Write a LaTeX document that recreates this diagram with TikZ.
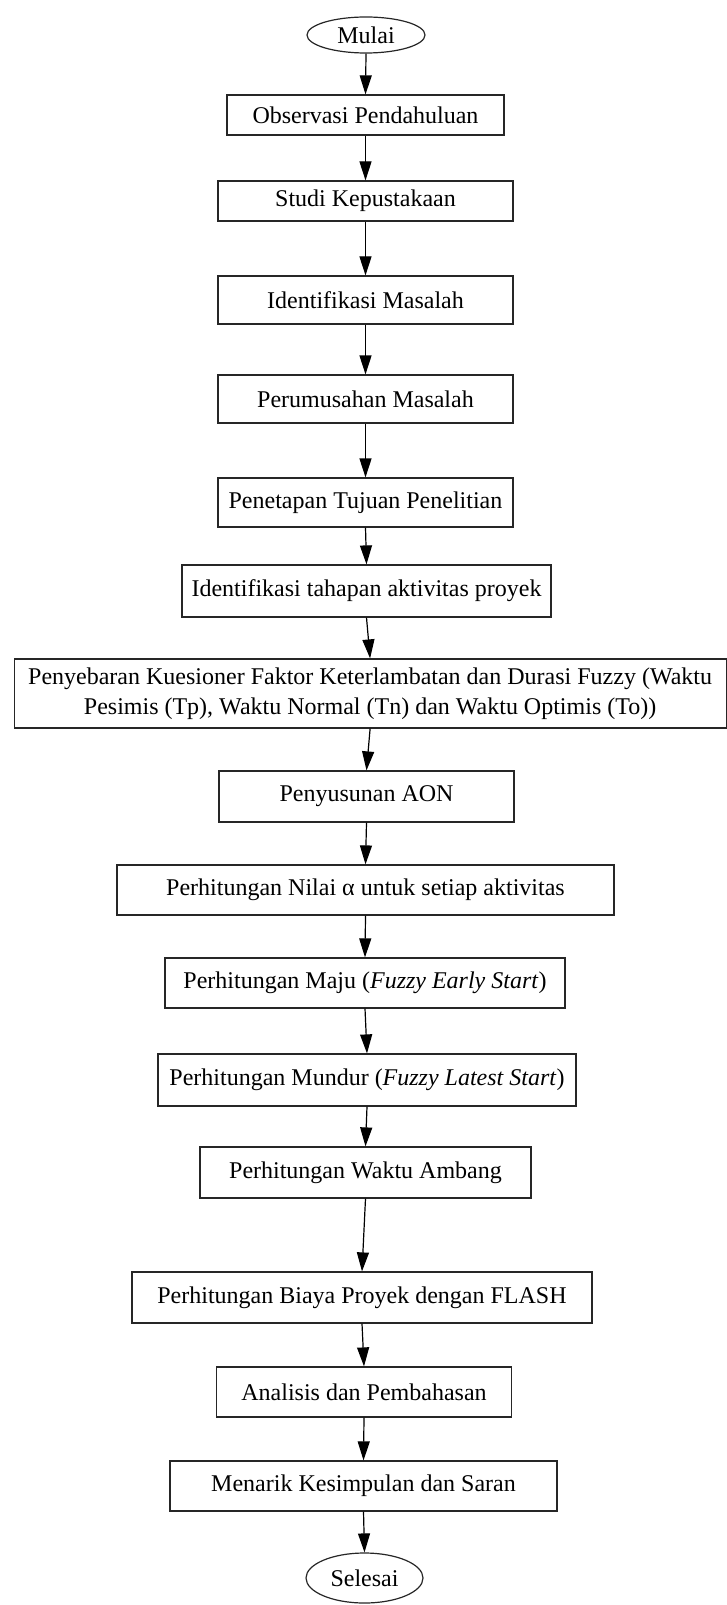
\documentclass[tikz,border=0pt]{standalone}
\usepackage{fontspec}
\setmainfont{Liberation Serif}
\usetikzlibrary{shapes.geometric,arrows.meta}
\begin{document}
\begin{tikzpicture}[x=1pt,y=-1pt,
  box/.style={draw=black!85, line width=1.2pt, rectangle, inner sep=0pt, align=center, font=\fontsize{24}{30}\selectfont},
  term/.style={draw=black!85, line width=1.2pt, ellipse, inner sep=0pt, font=\fontsize{24}{30}\selectfont},
  arr/.style={draw=black, line width=1.2pt, -{Triangle[length=19pt,width=12pt]}}]
\useasboundingbox (0,0) rectangle (727,1605);
\node[term, minimum width=118pt, minimum height=36pt] (mulai) at (366,35) {Mulai};
\node[box, minimum width=277pt, minimum height=40pt] (obs) at (365.5,115) {Observasi Pendahuluan};
\node[box, minimum width=295pt, minimum height=40pt] (studi) at (365.5,201) {Studi Kepustakaan};
\node[box, minimum width=295pt, minimum height=48pt] (idm) at (365.5,300) {Identifikasi Masalah};
\node[box, minimum width=295pt, minimum height=48pt] (perum) at (365.5,399) {Perumusahan Masalah};
\node[box, minimum width=295pt, minimum height=49pt] (penet) at (365.5,502.5) {Penetapan Tujuan Penelitian};
\node[box, minimum width=369pt, minimum height=52pt] (idt) at (366.5,591) {Identifikasi tahapan aktivitas proyek};
\node[box, minimum width=712pt, minimum height=69pt] (wide) at (370.1,693.5) {Penyebaran Kuesioner Faktor Keterlambatan dan Durasi Fuzzy (Waktu\\Pesimis (Tp), Waktu Normal (Tn) dan Waktu Optimis (To))};
\node[box, minimum width=295pt, minimum height=51pt] (aon) at (366.5,796.5) {Penyusunan AON};
\node[box, minimum width=497pt, minimum height=50pt] (alpha) at (365.5,890) {Perhitungan Nilai α untuk setiap aktivitas};
\node[box, minimum width=400pt, minimum height=50pt] (maju) at (365,983) {Perhitungan Maju (\textit{Fuzzy Early Start})};
\node[box, minimum width=418pt, minimum height=52pt] (mundur) at (367,1080) {Perhitungan Mundur (\textit{Fuzzy Latest Start})};
\node[box, minimum width=331pt, minimum height=51pt] (ambang) at (365.5,1172.5) {Perhitungan Waktu Ambang};
\node[box, minimum width=460pt, minimum height=51pt] (biaya) at (362,1297.5) {Perhitungan Biaya Proyek dengan FLASH};
\node[box, minimum width=295pt, minimum height=50pt] (anal) at (364,1392) {Analisis dan Pembahasan};
\node[box, minimum width=387pt, minimum height=50pt] (menarik) at (363.5,1486) {Menarik Kesimpulan dan Saran};
\node[term, minimum width=117pt, minimum height=50pt] (selesai) at (364.5,1578) {Selesai};
\draw[arr] (mulai.south) -- (obs.north);
\draw[arr] (obs.south) -- (studi.north);
\draw[arr] (studi.south) -- (idm.north);
\draw[arr] (idm.south) -- (perum.north);
\draw[arr] (perum.south) -- (penet.north);
\draw[arr] (penet.south) -- (idt.north);
\draw[arr] (idt.south) -- (wide.north);
\draw[arr] (wide.south) -- (aon.north);
\draw[arr] (aon.south) -- (alpha.north);
\draw[arr] (alpha.south) -- (maju.north);
\draw[arr] (maju.south) -- (mundur.north);
\draw[arr] (mundur.south) -- (ambang.north);
\draw[arr] (ambang.south) -- (biaya.north);
\draw[arr] (biaya.south) -- (anal.north);
\draw[arr] (anal.south) -- (menarik.north);
\draw[arr] (menarik.south) -- (selesai.north);
\end{tikzpicture}
\end{document}
